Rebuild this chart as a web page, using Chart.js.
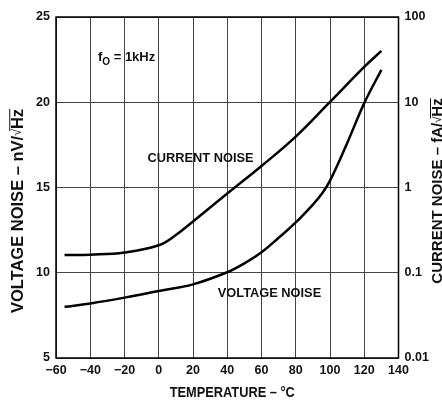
<!DOCTYPE html>
<html>
<head>
<meta charset="utf-8">
<script src="https://cdn.jsdelivr.net/npm/chart.js@4.4.1/dist/chart.umd.min.js"></script>
<style>
  html, body { margin: 0; padding: 0; background: #fff; }
  #wrap { width: 442px; height: 401px; }
</style>
</head>
<body>
<div id="wrap"><canvas id="noiseChart" width="442" height="401"></canvas></div>
<script>
// temperatures (°C) and curves
const voltTemps = [-55, -40, -20, 0, 20, 40, 50, 60, 70, 80, 90, 95, 100, 110, 120, 130];
const voltNoise = [8.0, 8.2, 8.54, 8.93, 9.32, 10.03, 10.55, 11.2, 12.05, 12.95, 14.0, 14.6, 15.4, 17.6, 19.95, 21.9];

const currTemps = [-55, -40, -20, 0, 10, 20, 40, 60, 80, 100, 120, 130];
const currNoise = [0.161, 0.163, 0.173, 0.21, 0.277, 0.40, 0.85, 1.79, 3.95, 10.1, 26, 40];

const xTicks = [-60, -40, -20, 0, 20, 40, 60, 80, 100, 120, 140];
const leftTicks = [5, 10, 15, 20, 25];
const rightTicks = [0.01, 0.1, 1, 10, 100];

const FONT = "'Liberation Sans', Arial, sans-serif";

function pairs(xs, ys) {
    return xs.map((x, i) => ({ x: x, y: ys[i] }));
}

function fmtNum(v) {
    return String(v).replace("-", "\u2212");
}

// draws text with an optional vertical stretch
function stretchText(ctx, txt, x, y, sy) {
    ctx.save();
    ctx.translate(x, y);
    ctx.scale(1, sy);
    ctx.fillText(txt, 0, 0);
    ctx.restore();
}

const textPlugin = {
    id: "textPlugin",
    afterDraw(chart) {
        const ctx = chart.ctx;
        const xs = chart.scales.x;
        const ys = chart.scales.y;
        const area = chart.chartArea;

        // frame
        ctx.save();
        ctx.strokeStyle = "#000";
        ctx.lineWidth = 1.5;
        ctx.strokeRect(area.left, area.top, area.right - area.left, area.bottom - area.top);
        ctx.restore();

        ctx.save();
        ctx.fillStyle = "#111";
        ctx.textBaseline = "middle";
        ctx.textAlign = "left";

        // f_O = 1kHz
        let px = xs.getPixelForValue(-35.5);
        let py = ys.getPixelForValue(22.6);
        ctx.font = "bold 13px " + FONT;
        ctx.fillText("f", px, py);
        let w = ctx.measureText("f").width;
        ctx.font = "bold 10px " + FONT;
        ctx.fillText("O", px + w, py + 4);
        let w2 = ctx.measureText("O").width;
        ctx.font = "bold 13px " + FONT;
        ctx.fillText(" = 1kHz", px + w + w2, py);

        ctx.font = "bold 12.8px " + FONT;
        ctx.fillText("CURRENT NOISE", xs.getPixelForValue(-6.5), ys.getPixelForValue(16.7));
        ctx.fillText("VOLTAGE NOISE", xs.getPixelForValue(34.5), ys.getPixelForValue(8.8));

        // x title
        ctx.textAlign = "center";
        ctx.font = "bold 12.8px " + FONT;
        stretchText(ctx, "TEMPERATURE \u2013 \u00B0C", (area.left + area.right) / 2 + 5, 393, 1.2);

        // left title
        drawVertTitle(ctx, "VOLTAGE NOISE \u2013 nV/", "Hz", 18, 211, 16.5);
        // right title (clipped by canvas edge)
        drawVertTitle(ctx, "CURRENT NOISE \u2013 fA/", "Hz", 438, 191, 15);
        ctx.restore();
    }
};

function drawVertTitle(ctx, main, unit, cx, cy, size) {
    ctx.save();
    ctx.translate(cx, cy);
    ctx.rotate(-Math.PI / 2);
    ctx.font = "bold " + size + "px " + FONT;
    const wMain = ctx.measureText(main).width;
    ctx.font = (size * 0.75) + "px " + FONT;
    const wRad = ctx.measureText("\u221A").width;
    ctx.font = "bold " + size + "px " + FONT;
    const wUnit = ctx.measureText(unit).width;
    const total = wMain + wRad + wUnit;
    let x = -total / 2;
    ctx.textAlign = "left";
    ctx.textBaseline = "middle";
    ctx.fillText(main, x, 0);
    x += wMain;
    ctx.font = (size * 0.75) + "px " + FONT;
    ctx.fillText("\u221A", x, 0);
    x += wRad;
    ctx.font = "bold " + size + "px " + FONT;
    ctx.fillText(unit, x, 0);
    // overline on the unit
    ctx.strokeStyle = "#111";
    ctx.lineWidth = 1;
    ctx.beginPath();
    ctx.moveTo(x - wRad * 0.3, -size * 0.5);
    ctx.lineTo(x + wUnit, -size * 0.5);
    ctx.stroke();
    ctx.restore();
}

const ctx = document.getElementById("noiseChart").getContext("2d");
const noiseChart = new Chart(ctx, {
    type: "line",
    data: {
        datasets: [
            {
                label: "Voltage noise",
                data: pairs(voltTemps, voltNoise),
                borderColor: "#000",
                borderWidth: 2.5,
                pointRadius: 0,
                tension: 0.4,
                yAxisID: "y",
            },
            {
                label: "Current noise",
                data: pairs(currTemps, currNoise),
                borderColor: "#000",
                borderWidth: 2.5,
                pointRadius: 0,
                tension: 0.4,
                yAxisID: "y2",
            },
        ],
    },
    options: {
        responsive: false,
        animation: false,
        devicePixelRatio: 1,
        layout: { padding: { top: 17, left: 0, right: 0, bottom: 0 } },
        plugins: {
            legend: { display: false },
            tooltip: { enabled: false },
        },
        scales: {
            x: {
                type: "linear",
                min: -60,
                max: 140,
                afterBuildTicks: (s) => { s.ticks = xTicks.map((v) => ({ value: v })); },
                afterFit: (s) => { s.height = 43; },
                ticks: {
                    color: "#111",
                    font: { family: FONT, size: 12.5, weight: "bold" },
                    padding: 5,
                    maxRotation: 0,
                    autoSkip: false,
                    callback: (v) => fmtNum(v),
                },
                grid: { color: "#444", lineWidth: 1, drawTicks: false },
                border: { display: false },
            },
            y: {
                type: "linear",
                position: "left",
                min: 5,
                max: 25,
                afterBuildTicks: (s) => { s.ticks = leftTicks.map((v) => ({ value: v })); },
                afterFit: (s) => { s.width = 56; },
                ticks: {
                    color: "#111",
                    font: { family: FONT, size: 12.5, weight: "bold" },
                    padding: 6,
                    callback: (v) => String(v),
                },
                grid: { color: "#444", lineWidth: 1, drawTicks: false },
                border: { display: false },
            },
            y2: {
                type: "logarithmic",
                position: "right",
                min: 0.01,
                max: 100,
                afterBuildTicks: (s) => { s.ticks = rightTicks.map((v) => ({ value: v })); },
                afterFit: (s) => { s.width = 43.5; },
                ticks: {
                    color: "#111",
                    font: { family: FONT, size: 12.5, weight: "bold" },
                    padding: 6,
                    callback: (v) => String(v),
                },
                grid: { display: false, drawTicks: false },
                border: { display: false },
            },
        },
    },
    plugins: [textPlugin],
});
</script>
</body>
</html>
